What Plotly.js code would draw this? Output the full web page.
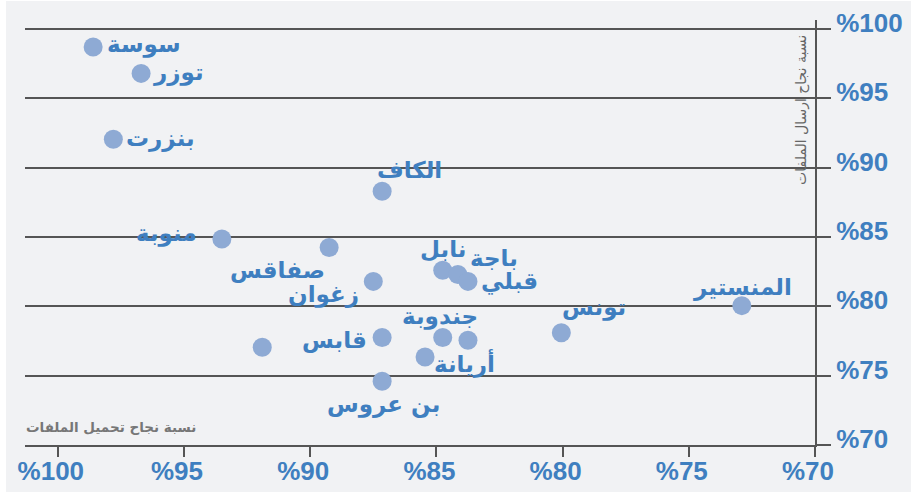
<!DOCTYPE html>
<html>
<head>
<meta charset="utf-8">
<script src="https://cdn.plot.ly/plotly-3.0.1.min.js"></script>
<style>
  html, body { margin: 0; padding: 0; background: #ffffff; }
  #chart { position: absolute; left: 6px; top: 1px; width: 905px; height: 491px; }
</style>
</head>
<body>
<div id="chart"></div>
<script>
// Data
const names = ['سوسة', 'توزر', 'بنزرت', 'الكاف', 'منوبة', 'صفاقس', 'زغوان', 'قابس', '', 'بن عروس',
               'نابل', 'باجة', 'قبلي', 'جندوبة', 'أريانة', '', 'تونس', 'المنستير'];
const uploadRate = [98.6, 96.7, 97.8, 87.15, 93.5, 89.25, 87.5, 87.15, 91.9, 87.15,
                    84.75, 84.15, 83.75, 84.75, 83.75, 85.45, 80.05, 72.9];
const sendRate = [98.7, 96.8, 92.05, 88.3, 84.85, 84.25, 81.8, 77.75, 77.05, 74.6,
                  82.6, 82.3, 81.8, 77.75, 77.55, 76.35, 78.1, 80.05];
const tickValues = [100, 95, 90, 85, 80, 75, 70];
const tickLabels = ['%100', '%95', '%90', '%85', '%80', '%75', '%70'];

// Label placement (anchor, pixel offsets) kept separate from data
const labelPlacement = [
  ['left', 12, -3], ['left', 10, -1], ['left', 11, -1], ['center', 27, -21], ['right', -23, -6],
  ['right', -2, 23], ['right', -12, 13], ['right', -13, 2], ['center', 0, 0], ['center', 1, 23],
  ['center', 0, -21], ['left', 10, -16], ['left', 11, 0], ['center', -3, -21], ['center', -3, 23],
  ['center', 0, 0], ['left', -1, -25], ['center', 1, -18]
];

const blue = '#3f7fc0';
const grid = '#555555';

const trace = {
  type: 'scatter',
  mode: 'markers',
  x: uploadRate,
  y: sendRate,
  text: names,
  hoverinfo: 'text',
  marker: { size: 19, color: '#8eaad4', line: { width: 0 } }
};

const annotations = names.map((n, i) => n ? {
  x: uploadRate[i], y: sendRate[i], xref: 'x', yref: 'y',
  text: n, showarrow: false,
  xanchor: labelPlacement[i][0], yanchor: 'middle',
  xshift: labelPlacement[i][1], yshift: -labelPlacement[i][2],
  font: { family: 'DejaVu Sans', size: 23, color: blue, weight: 'bold' }
} : null).filter(a => a);

annotations.push({
  xref: 'paper', yref: 'paper', x: 0.982, y: 0.788,
  text: 'نسبة نجاح ارسال الملفات', showarrow: false, textangle: -90,
  xanchor: 'center', yanchor: 'middle',
  font: { family: 'DejaVu Sans', size: 14, color: '#666666' }
});
annotations.push({
  xref: 'paper', yref: 'paper', x: 0.109, y: 0.042,
  text: 'نسبة نجاح تحميل الملفات', showarrow: false,
  xanchor: 'center', yanchor: 'middle',
  font: { family: 'DejaVu Sans', size: 13.5, color: '#777777', weight: 'bold' }
});

const layout = {
  width: 905, height: 491,
  margin: { l: 19, r: 96, t: 19, b: 47 },
  paper_bgcolor: '#f1f2f4',
  plot_bgcolor: '#f1f2f4',
  showlegend: false,
  xaxis: {
    range: [101.3, 70],
    tickvals: tickValues, ticktext: tickLabels,
    ticks: 'outside', ticklen: 10, tickwidth: 2, tickcolor: grid,
    showgrid: false, zeroline: false,
    showline: true, linecolor: grid, linewidth: 2,
    tickfont: { family: 'Liberation Sans', size: 26, color: blue, weight: 'bold' },
    ticklabelshift: 7,
    ticklabelstandoff: -8
  },
  yaxis: {
    side: 'right',
    range: [70, 100.65],
    tickvals: tickValues, ticktext: tickLabels,
    ticks: 'outside', ticklen: 14, tickwidth: 2, tickcolor: grid,
    showgrid: true, gridcolor: grid, gridwidth: 2,
    zeroline: false,
    showline: true, linecolor: grid, linewidth: 2,
    tickfont: { family: 'Liberation Sans', size: 26, color: blue, weight: 'bold' },
    ticklabelshift: -6
  },
  annotations: annotations
};

Plotly.newPlot('chart', [trace], layout, { displayModeBar: false, staticPlot: true });
</script>
</body>
</html>
